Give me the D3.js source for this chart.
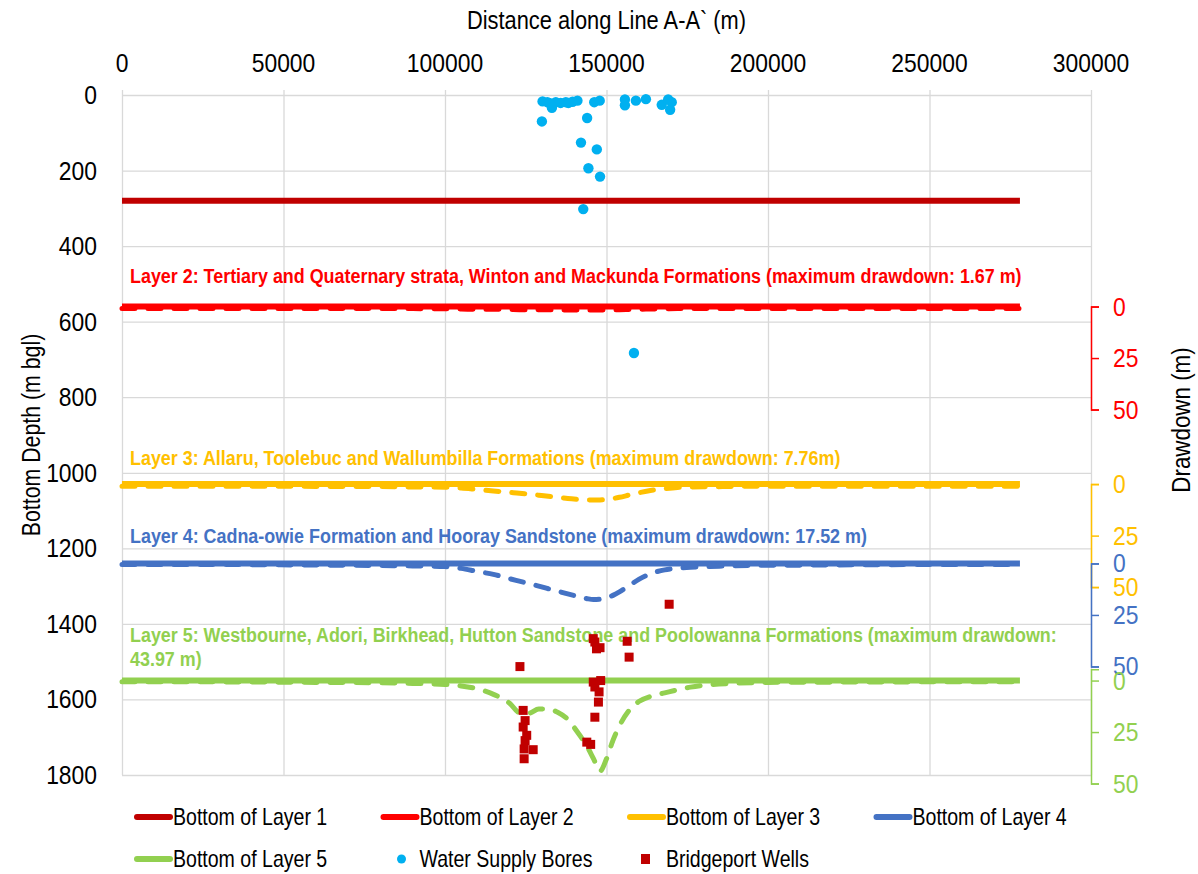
<!DOCTYPE html>
<html>
<head>
<meta charset="utf-8">
<script src="https://cdn.jsdelivr.net/npm/d3@7"></script>
<style>
body { margin: 0; background: #fff; }
svg text { font-family: "Liberation Sans", Arial, sans-serif; }
</style>
</head>
<body>
<svg id="chart" width="1198" height="874"></svg>
<script>
// axis ticks
var xTicks = [0, 50000, 100000, 150000, 200000, 250000, 300000];
var depthTicks = [0, 200, 400, 600, 800, 1000, 1200, 1400, 1600, 1800];
var drawdownTicks = [0, 25, 50];

// layer bottoms (m bgl), drawn from 0 to the end of line A-A`
var layerNames = ["Bottom of Layer 1", "Bottom of Layer 2", "Bottom of Layer 3", "Bottom of Layer 4", "Bottom of Layer 5"];
var layerDepths = [280, 560, 1030, 1240, 1550];
var layerLineEnd = 278000;

// drawdown profiles (m) for layers 2-5 along the line
var ddDistance = [0, 20000, 40000, 60000, 80000, 90000, 100000, 105000, 110000, 115000, 120000, 123000, 126000, 129000,
    132000, 135000, 138000, 141000, 144000, 146000, 148000, 150000, 152000, 154000, 157000, 160000, 164000, 168000,
    172000, 176000, 182000, 190000, 200000, 215000, 235000, 255000, 278000];
var ddLayer2 = [0.9, 0.9, 0.9, 0.9, 1.0, 1.0, 1.1, 1.2, 1.3, 1.3, 1.4, 1.5, 1.5, 1.6, 1.6, 1.6, 1.65, 1.67, 1.67, 1.67, 1.67,
    1.6, 1.6, 1.5, 1.4, 1.3, 1.2, 1.1, 1.0, 1.0, 0.9, 0.9, 0.9, 0.9, 0.9, 0.9, 0.9];
var ddLayer3 = [1.0, 1.0, 1.0, 1.1, 1.2, 1.4, 1.5, 1.9, 2.6, 3.3, 4.0, 4.4, 4.9, 5.4, 5.9, 6.4, 7.0, 7.4, 7.7, 7.76, 7.7,
    7.4, 7.0, 6.4, 5.3, 4.2, 3.0, 2.2, 1.6, 1.4, 1.3, 1.1, 1.0, 1.0, 1.0, 1.0, 1.0];
var ddLayer4 = [0.5, 0.5, 0.6, 0.8, 1.0, 1.2, 1.5, 2.4, 3.9, 5.3, 7.4, 8.6, 9.8, 11.0, 12.3, 13.5, 14.8, 16.0, 17.1, 17.52,
    17.4, 16.8, 15.5, 13.8, 10.8, 7.7, 4.8, 3.1, 2.3, 1.8, 1.5, 1.1, 0.9, 0.8, 0.6, 0.5, 0.5];
var ddLayer5 = [0.6, 0.6, 0.7, 0.9, 1.1, 1.4, 1.9, 2.6, 4.0, 6.7, 11.0, 15.5, 15.8, 13.8, 13.9, 15.5, 18.8, 25.0, 32.0, 38.0,
    43.97, 38.0, 29.0, 22.0, 14.5, 10.2, 7.5, 6.0, 4.5, 3.2, 2.0, 1.3, 0.9, 0.8, 0.7, 0.6, 0.6];
var ddSeries = [ddLayer2, ddLayer3, ddLayer4, ddLayer5];
var ddAxisMin = [0, 0, 0, -5.5];

var layerLabels = [
    ["Layer 2: Tertiary and Quaternary strata, Winton and Mackunda Formations (maximum drawdown: 1.67 m)"],
    ["Layer 3: Allaru, Toolebuc and Wallumbilla Formations (maximum drawdown: 7.76m)"],
    ["Layer 4: Cadna-owie Formation and Hooray Sandstone (maximum drawdown: 17.52 m)"],
    ["Layer 5: Westbourne, Adori, Birkhead, Hutton Sandstone and Poolowanna Formations (maximum drawdown:", "43.97 m)"]
];

// water supply bores
var boreDistance = [130200, 131700, 133100, 134300, 135800, 137400, 138200, 141000, 146200, 147900, 130000, 144000,
    155700, 155700, 159100, 162200, 167100, 169100, 170200, 169700, 142100, 147000, 144400, 148000, 142800, 158500,
    132500, 139500];
var boreDepth = [17, 19, 34, 19, 21, 19, 21, 15, 19, 15, 70, 61, 12, 27, 15, 11, 26, 12, 19, 39, 126, 144, 194, 216, 302, 683,
    22, 18];

// bridgeport wells
var wellDistance = [169400, 123200, 146400, 146900, 145900, 148000, 156400, 157000, 145900, 148200, 146400, 147700,
    147500, 146400, 143900, 145100, 124200, 124800, 124200, 125300, 124800, 124500, 127300, 124500];
var wellDepth = [1348, 1513, 1448, 1466, 1439, 1463, 1446, 1488, 1554, 1550, 1567, 1580, 1607, 1647, 1713, 1719,
    1629, 1656, 1673, 1695, 1709, 1731, 1733, 1757];

var layerColours = ["#c00000", "#ff0000", "#ffc000", "#4472c4", "#92d050"];
var boreColour = "#00b0f0", wellColour = "#c00000", gridColour = "#d9d9d9";

var svg = d3.select("#chart");
var x = d3.scaleLinear().domain([0, 300000]).range([122, 1091]);
var y = d3.scaleLinear().domain([0, 1800]).range([95, 775]);
var ddSpan = 103; // px covered by 50 m of drawdown

// no narrow font installed, so squeeze Liberation Sans sideways
function label(parent, px, py, str, size, squeeze, anchor, rotate) {
    var g = parent.append("g")
        .attr("transform", "translate(" + px + "," + py + ")" + (rotate ? " rotate(" + rotate + ")" : "") +
              " scale(" + squeeze + ",1)");
    return g.append("text")
        .attr("text-anchor", anchor || "start")
        .attr("dominant-baseline", "central")
        .attr("font-size", size)
        .attr("fill", "#000")
        .text(str);
}

// gridlines
svg.append("g").selectAll("line").data(depthTicks).enter().append("line")
    .attr("x1", x(0)).attr("x2", x(300000))
    .attr("y1", d => y(d) + 0.5).attr("y2", d => y(d) + 0.5)
    .attr("stroke", gridColour).attr("stroke-width", 1.3);
svg.append("g").selectAll("line").data(xTicks).enter().append("line")
    .attr("x1", d => x(d) + 0.5).attr("x2", d => x(d) + 0.5)
    .attr("y1", y(0) - 5).attr("y2", y(1800))
    .attr("stroke", gridColour).attr("stroke-width", 1.3);

// tick labels
xTicks.forEach(function(t) { label(svg, x(t), 63, t, 26, 0.88, "middle"); });
depthTicks.forEach(function(t) { label(svg, 97, y(t), t, 26, 0.88, "end"); });

// axis titles
label(svg, (x(0) + x(300000)) / 2, 20, "Distance along Line A-A` (m)", 26, 0.84, "middle");
label(svg, 31, (y(0) + y(1800)) / 2, "Bottom Depth (m bgl)", 26, 0.82, "middle", -90);
label(svg, 1181, 420, "Drawdown (m)", 26, 0.86, "middle", -90);

// drawdown scales, one per layer 2-5, zero at the layer bottom
var ddScales = ddSeries.map(function(s, i) {
    var top = y(layerDepths[i + 1]);
    return d3.scaleLinear().domain([0, 50]).range([top, top + ddSpan]);
});

ddScales.forEach(function(sc, i) {
    var colour = layerColours[i + 1];
    var axisScale = sc.copy().domain([ddAxisMin[i], 50]).range([sc(ddAxisMin[i]), sc(50)]);
    var g = svg.append("g").attr("transform", "translate(" + x(300000) + ",0)")
        .call(d3.axisRight(axisScale).tickValues(drawdownTicks).tickSize(8).tickSizeOuter(8).tickFormat(""));
    g.selectAll("path, line").attr("stroke", colour).attr("stroke-width", 1.5);
    drawdownTicks.forEach(function(t) {
        label(svg, x(300000) + 22, sc(t), t, 26, 0.88, "start").attr("fill", colour);
    });
});

// layer bottoms
svg.append("g").selectAll("line").data(layerDepths).enter().append("line")
    .attr("x1", x(0)).attr("x2", x(layerLineEnd))
    .attr("y1", d => y(d)).attr("y2", d => y(d))
    .attr("stroke", (d, i) => layerColours[i]).attr("stroke-width", 6);

// drawdown curves
ddSeries.forEach(function(s, i) {
    var sc = ddScales[i];
    var line = d3.line()
        .x((d, j) => x(ddDistance[j]))
        .y(d => sc(d))
        .curve(d3.curveMonotoneX);
    svg.append("path").datum(s)
        .attr("d", line)
        .attr("fill", "none")
        .attr("stroke", layerColours[i + 1])
        .attr("stroke-width", 5)
        .attr("stroke-linecap", "round")
        .attr("stroke-dasharray", "13,13");
});

// layer annotations, last line sits just above the layer bottom
var labelGap = [31, 27, 28, 22];
layerLabels.forEach(function(lines, i) {
    var base = y(layerDepths[i + 1]) - labelGap[i] - (lines.length - 1) * 24;
    lines.forEach(function(l, j) {
        label(svg, x(0) + 8, base + j * 24, l, 21, 0.853, "start")
            .attr("font-weight", "bold")
            .attr("fill", layerColours[i + 1]);
    });
});

// water supply bores
svg.append("g").selectAll("circle").data(boreDepth).enter().append("circle")
    .attr("cx", (d, i) => x(boreDistance[i]))
    .attr("cy", d => y(d))
    .attr("r", 5.2)
    .attr("fill", boreColour);

// bridgeport wells
svg.append("g").selectAll("rect").data(wellDepth).enter().append("rect")
    .attr("x", (d, i) => x(wellDistance[i]) - 4.5)
    .attr("y", d => y(d) - 4.5)
    .attr("width", 9).attr("height", 9)
    .attr("fill", wellColour);

// legend
var legendItems = layerNames.map((n, i) => ({name: n, type: "line", colour: layerColours[i]}))
    .concat([{name: "Water Supply Bores", type: "dot", colour: boreColour},
             {name: "Bridgeport Wells", type: "square", colour: wellColour}]);
var legend = svg.append("g").selectAll("g").data(legendItems).enter().append("g")
    .attr("transform", (d, i) => "translate(" + (135 + (i % 4) * 246.5) + "," + (817 + Math.floor(i / 4) * 42) + ")");
legend.filter(d => d.type == "line").append("line")
    .attr("x1", 2).attr("x2", 35).attr("y1", 0).attr("y2", 0)
    .attr("stroke", d => d.colour).attr("stroke-width", 6).attr("stroke-linecap", "round");
legend.filter(d => d.type == "dot").append("circle")
    .attr("cx", 20).attr("cy", 0).attr("r", 4.5).attr("fill", d => d.colour);
legend.filter(d => d.type == "square").append("rect")
    .attr("x", 13).attr("y", -5).attr("width", 9).attr("height", 10).attr("fill", d => d.colour);
legend.each(function(d) {
    label(d3.select(this), d.type == "square" ? 38 : (d.type == "dot" ? 38 : 38), 0, d.name, 23, 0.85, "start");
});
</script>
</body>
</html>
